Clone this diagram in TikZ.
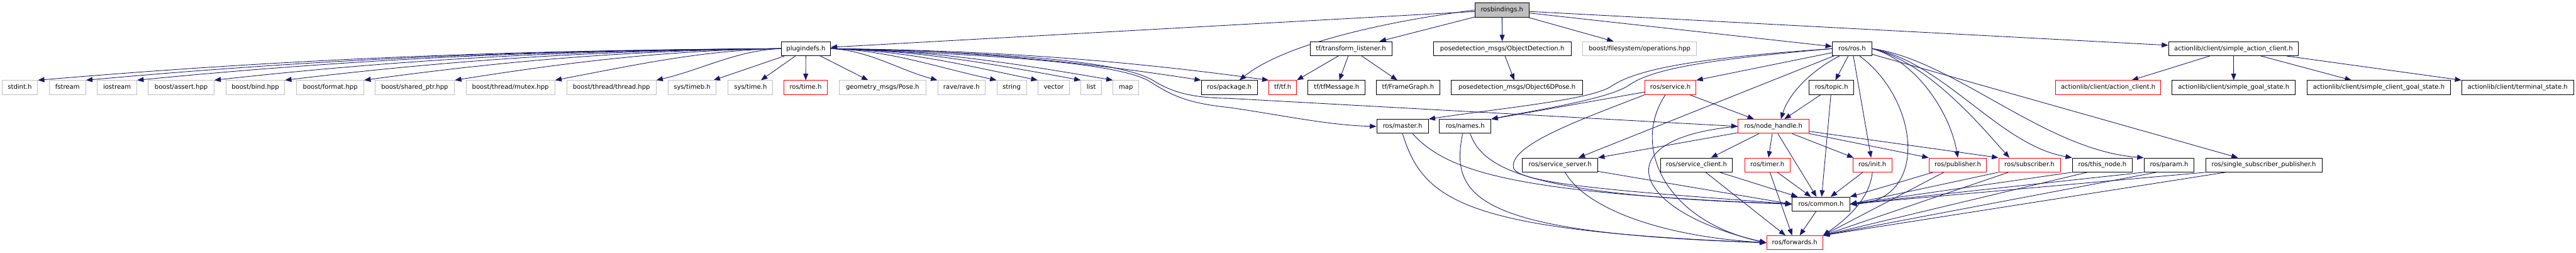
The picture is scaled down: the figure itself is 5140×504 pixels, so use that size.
\documentclass[tikz,border=0pt]{standalone}
\usepackage{fontspec}
\setmainfont{DejaVu Sans}
\usetikzlibrary{arrows.meta, backgrounds}
\definecolor{depblue}{HTML}{191970}
\definecolor{extgray}{HTML}{BFBFBF}

\begin{document}
\begin{tikzpicture}[
        x=1pt, y=-1pt,
        file/.style={draw=black, line width=1.2pt, fill=white, inner sep=0pt,
            minimum height=28pt, font=\fontsize{12.6}{15}\selectfont,
            text height=9.4pt, text depth=2.6pt},
        ext/.style={file, draw=extgray},
        cut/.style={file, draw=red},
        self/.style={file, fill=extgray},
        dep/.style={draw=depblue, line width=1.1pt, -{Triangle[length=13pt, width=10pt]}}
    ]
    \useasboundingbox (0,0) rectangle (5140,504);

    % Root
    \node[self, minimum width=108] (rb) at (2997,20) {rosbindings.h};

    % Direct includes
    \node[file, minimum width=98]  (plug) at (1608,97) {plugindefs.h};
    \node[file, minimum width=163] (listener) at (2695.5,97) {tf/transform\_listener.h};
    \node[file, minimum width=275] (detection) at (2997.5,97) {posedetection\_msgs/ObjectDetection.h};
    \node[ext,  minimum width=227] (fsops) at (3271.5,97) {boost/filesystem/operations.hpp};
    \node[file, minimum width=79]  (ros) at (3695.5,97) {ros/ros.h};
    \node[file, minimum width=259] (simpleclient) at (4456.5,97) {actionlib/client/simple\_action\_client.h};

    % Second row
    \node[ext, minimum width=71]  (stdint) at (39.5,174.5) {stdint.h};
    \node[ext, minimum width=73]  (fstream) at (134.5,174.5) {fstream};
    \node[ext, minimum width=79]  (iostream) at (233.5,174.5) {iostream};
    \node[ext, minimum width=131] (assert) at (361.5,174.5) {boost/assert.hpp};
    \node[ext, minimum width=117] (bind) at (509.5,174.5) {boost/bind.hpp};
    \node[ext, minimum width=134] (format) at (659,174.5) {boost/format.hpp};
    \node[ext, minimum width=159] (sharedptr) at (827.5,174.5) {boost/shared\_ptr.hpp};
    \node[ext, minimum width=177] (mutex) at (1018.5,174.5) {boost/thread/mutex.hpp};
    \node[ext, minimum width=178] (thread) at (1220,174.5) {boost/thread/thread.hpp};
    \node[ext, minimum width=96]  (timeb) at (1381,174.5) {sys/timeb.h};
    \node[ext, minimum width=89]  (systime) at (1497.5,174.5) {sys/time.h};
    \node[cut, minimum width=87]  (rostime) at (1607.5,174.5) {ros/time.h};
    \node[ext, minimum width=174] (pose) at (1761,174.5) {geometry\_msgs/Pose.h};
    \node[ext, minimum width=95]  (rave) at (1918.5,174.5) {rave/rave.h};
    \node[ext, minimum width=59]  (string) at (2018.5,174.5) {string};
    \node[ext, minimum width=63]  (vector) at (2102.5,174.5) {vector};
    \node[ext, minimum width=41]  (list) at (2177.5,174.5) {list};
    \node[ext, minimum width=51]  (map) at (2246.5,174.5) {map};
    \node[file, minimum width=112] (package) at (2453,174.5) {ros/package.h};
    \node[cut, minimum width=55]  (tf) at (2559.5,174.5) {tf/tf.h};
    \node[file, minimum width=114] (tfmsg) at (2667,174.5) {tf/tfMessage.h};
    \node[file, minimum width=127] (framegraph) at (2809.5,174.5) {tf/FrameGraph.h};
    \node[file, minimum width=262] (pose6d) at (3027,174.5) {posedetection\_msgs/Object6DPose.h};
    \node[cut, minimum width=102] (service) at (3333,174.5) {ros/service.h};
    \node[file, minimum width=89]  (topic) at (3654.5,174.5) {ros/topic.h};
    \node[cut, minimum width=209] (actclient) at (4206.5,174.5) {actionlib/client/action\_client.h};
    \node[file, minimum width=246] (goalstate) at (4457,174.5) {actionlib/client/simple\_goal\_state.h};
    \node[file, minimum width=287] (clientgoal) at (4746.5,174.5) {actionlib/client/simple\_client\_goal\_state.h};
    \node[file, minimum width=223] (terminal) at (5023.5,174.5) {actionlib/client/terminal\_state.h};

    % Third row
    \node[file, minimum width=103] (master) at (2798.5,252) {ros/master.h};
    \node[file, minimum width=103] (names) at (2923.5,252) {ros/names.h};
    \node[cut,  minimum width=141] (nodehandle) at (3538.5,252) {ros/node\_handle.h};

    % Fourth row
    \node[file, minimum width=150] (srvserver) at (3113,329) {ros/service\_server.h};
    \node[file, minimum width=144] (srvclient) at (3385,329) {ros/service\_client.h};
    \node[cut,  minimum width=91]  (timer) at (3526.5,329) {ros/timer.h};
    \node[cut,  minimum width=78]  (init) at (3736,329) {ros/init.h};
    \node[cut,  minimum width=115] (publisher) at (3906.5,329) {ros/publisher.h};
    \node[cut,  minimum width=123] (subscriber) at (4049.5,329) {ros/subscriber.h};
    \node[file, minimum width=120] (thisnode) at (4195,329) {ros/this\_node.h};
    \node[file, minimum width=100] (param) at (4328,329) {ros/param.h};
    \node[file, minimum width=232] (singlepub) at (4517,329) {ros/single\_subscriber\_publisher.h};

    % Bottom
    \node[file, minimum width=115] (common) at (3633.5,407) {ros/common.h};
    \node[cut,  minimum width=112] (forwards) at (3581,484) {ros/forwards.h};

    \begin{scope}[on background layer]
    % rosbindings.h
    \foreach \n in {plug, listener, detection, fsops, ros, simpleclient}
        \draw[dep] (rb) -- (\n);
    \draw[dep] (rb.west) .. controls (2750,45) and (2560,90) .. ([xshift=20pt]package.north);

    % plugindefs.h
    \foreach \n/\d/\h in {stdint/520/44, fstream/486/44, iostream/450/44, assert/396/44,
                          bind/347/42, format/292/40, sharedptr/228/36, mutex/158/30, thread/88/20}
        \draw[dep] (plug.west) .. controls +(-\d,3) and +(\d,-\h) .. (\n.north east);
    \foreach \n in {timeb, systime, rostime, pose}
        \draw[dep] (plug) -- (\n);
    \foreach \n/\d/\h in {rave/75/20, string/116/25, vector/145/30, list/175/32,
                          map/197/34, package/259/40, tf/306/42}
        \draw[dep] (plug.east) .. controls +(\d,3) and +(-\d,-\h) .. (\n.north west);
    \draw[dep] (plug.east) .. controls (2000,105) and (2230,120) .. (2300,160)
        .. controls (2340,185) and (2380,195) .. (2450,196) -- (nodehandle.west);
    \draw[dep] (plug.east) .. controls (2000,110) and (2220,125) .. (2290,160)
        .. controls (2330,185) and (2360,205) .. (2450,214)
        .. controls (2550,228) and (2650,250) .. (master.west);

    % tf and posedetection
    \draw[dep] (listener) -- (tf.north east);
    \draw[dep] (listener) -- (tfmsg);
    \draw[dep] (listener) -- (framegraph);
    \draw[dep] (detection) -- (pose6d);

    % ros/ros.h
    \foreach \n in {topic, init, srvserver, singlepub}
        \draw[dep] (ros) -- (\n);
    \draw[dep] (ros) -- (service.north east);
    \draw[dep] ([xshift=-25pt]ros.south) .. controls (3615,140) and (3570,185) .. ([xshift=15pt]nodehandle.north);
    \draw[dep] ([xshift=15pt]ros.south) .. controls (3830,200) and (3850,400) .. (common.east);
    \draw[dep] (ros.east) .. controls (3820,120) and (3890,220) .. (publisher.north);
    \draw[dep] (ros.east) .. controls (3850,125) and (3960,260) .. ([xshift=-40pt]subscriber.north);
    \draw[dep] (ros.east) .. controls (3880,125) and (3990,290) .. (thisnode.north west);
    \draw[dep] (ros.east) .. controls (3900,120) and (4080,300) .. (param.north west);
    \draw[dep] (ros.west) .. controls (3400,115) and (3270,135) .. (3215,172)
        .. controls (3175,199) and (3000,215) .. (master.north east);
    \draw[dep] (ros.west) .. controls (3420,118) and (3300,135) .. (3250,170)
        .. controls (3210,198) and (3050,222) .. (names.north east);

    % ros/service.h and ros/topic.h
    \draw[dep] (service) -- (names.north east);
    \draw[dep] (service) -- (nodehandle);
    \draw[dep] ([xshift=-10pt]service.south) .. controls (3255,290) and (3320,440) .. (forwards.west);
    \draw[dep] (service.south west) .. controls (3150,240) and (3010,290) .. (3020,335)
        .. controls (3030,370) and (3300,385) .. (common.west);
    \draw[dep] (topic) -- (nodehandle);
    \draw[dep] (topic) -- (common);

    % ros/node_handle.h
    \draw[dep] (nodehandle) -- (srvserver.north east);
    \foreach \n in {srvclient, timer, common, init}
        \draw[dep] (nodehandle) -- (\n);
    \draw[dep] (nodehandle) -- (publisher.north west);
    \draw[dep] (nodehandle) -- (subscriber.north west);
    \draw[dep] (nodehandle.west) .. controls (3200,275) and (3250,420) .. (forwards.west);

    % master and names
    \draw[dep] (master.south) .. controls (2840,400) and (2920,460) .. (forwards.west);
    \draw[dep] ([xshift=20pt]master.south) .. controls (2890,345) and (3030,385) .. (common.west);
    \draw[dep] ([xshift=-5pt]names.south) .. controls (2890,400) and (2960,465) .. (forwards.west);
    \draw[dep] ([xshift=10pt]names.south) .. controls (2960,340) and (3060,390) .. (common.west);

    % fourth row down to common and forwards
    \draw[dep] (srvserver) -- (common.west);
    \draw[dep] ([xshift=10pt]srvserver.south) .. controls (3160,410) and (3300,470) .. (forwards.west);
    \foreach \n in {srvclient, timer, common}
        \draw[dep] (\n) -- (forwards);
    \draw[dep] (srvclient) -- (common);
    \draw[dep] (timer) -- (common);
    \draw[dep] (init) -- (common);
    \draw[dep] (init.south) .. controls (3730,400) and (3680,440) .. (forwards.north east);
    \draw[dep] (publisher) -- (common.north east);
    \draw[dep] (publisher) -- (forwards.north east);
    \draw[dep] (subscriber.south west) -- (common.east);
    \draw[dep] ([xshift=20pt]subscriber.south west) -- (forwards.north east);
    \draw[dep] (thisnode.south west) -- (common.east);
    \draw[dep] ([xshift=30pt]thisnode.south west) -- (forwards.north east);
    \draw[dep] (param.south west) -- (common.east);
    \draw[dep] ([xshift=25pt]param.south west) -- (forwards.north east);
    \draw[dep] (singlepub.south west) -- (common.east);
    \draw[dep] ([xshift=40pt]singlepub.south west) -- (forwards.north east);

    % actionlib
    \foreach \n in {actclient, goalstate, clientgoal}
        \draw[dep] (simpleclient) -- (\n);
    \draw[dep] (simpleclient) -- (terminal.north west);
    \end{scope}

\end{tikzpicture}
\end{document}
